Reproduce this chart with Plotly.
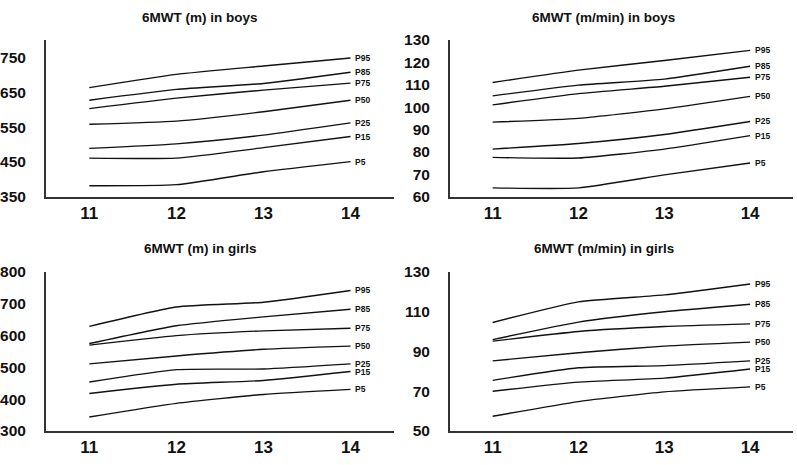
import plotly.graph_objects as go

ages = [11, 12, 13, 14]
pct_labels = ["P95", "P85", "P75", "P50", "P25", "P15", "P5"]

boys_m = {
    "P95": [663, 701, 725, 748],
    "P85": [627, 658, 675, 707],
    "P75": [603, 633, 656, 676],
    "P50": [558, 567, 594, 627],
    "P25": [489, 502, 527, 562],
    "P15": [461, 461, 491, 523],
    "P5":  [382, 385, 422, 451],
}
boys_mmin = {
    "P95": [111.0, 116.5, 120.8, 125.3],
    "P85": [105.0, 109.8, 112.5, 118.2],
    "P75": [101.0, 106.0, 109.3, 113.3],
    "P50": [93.3, 95.0, 99.2, 104.8],
    "P25": [81.3, 83.8, 87.8, 93.6],
    "P15": [77.6, 77.3, 81.3, 87.3],
    "P5":  [64.0, 64.0, 69.8, 75.1],
}
girls_m = {
    "P95": [629, 690, 705, 742],
    "P85": [575, 631, 659, 683],
    "P75": [570, 600, 615, 623],
    "P50": [511, 536, 557, 567],
    "P25": [454, 493, 495, 511],
    "P15": [418, 447, 459, 487],
    "P5":  [344, 387, 415, 431],
}
girls_mmin = {
    "P95": [104.6, 115.0, 118.5, 124.0],
    "P85": [96.0, 104.8, 110.0, 113.8],
    "P75": [95.2, 100.1, 102.6, 103.9],
    "P50": [85.3, 89.4, 92.7, 94.7],
    "P25": [75.5, 81.8, 82.9, 85.3],
    "P15": [70.0, 74.6, 76.6, 81.2],
    "P5":  [57.4, 64.8, 69.7, 72.2],
}

titles = ["6MWT (m) in boys", "6MWT (m/min) in boys",
          "6MWT (m) in girls", "6MWT (m/min) in girls"]
datasets = [boys_m, boys_mmin, girls_m, girls_mmin]
yranges = [[350, 800], [60, 130], [300, 800], [50, 130]]
ydticks = [100, 10, 100, 20]
ytick0 = [350, 60, 300, 50]

W, H = 797, 465
xdoms = [[42 / W, 392 / W], [448 / W, 793 / W], [42 / W, 392 / W], [448 / W, 793 / W]]
ydoms = [[1 - 195 / H, 1 - 32 / H], [1 - 195 / H, 1 - 32 / H],
         [1 - 438 / H, 1 - 273 / H], [1 - 438 / H, 1 - 273 / H]]
title_x = [197 / W, 603 / W, 197 / W, 603 / W]
title_y = [1 - 9 / H, 1 - 9 / H, 1 - 249 / H, 1 - 249 / H]

FONT = "Liberation Sans"
fig = go.Figure()
layout = dict()
annotations = []
for i, data in enumerate(datasets):
    xa = "x" if i == 0 else f"x{i+1}"
    ya = "y" if i == 0 else f"y{i+1}"
    for p in pct_labels:
        fig.add_trace(go.Scatter(
            x=ages, y=data[p], mode="lines", xaxis=xa, yaxis=ya,
            line=dict(color="#111111", width=1.4, shape="spline", smoothing=0.5),
            showlegend=False, hoverinfo="skip"))
        annotations.append(dict(
            x=14, y=data[p][-1], xref=xa, yref=ya, text=f"<b>{p}</b>",
            showarrow=False, xanchor="left", yanchor="middle", xshift=3,
            font=dict(family=FONT, size=8.5, color="#111111")))
    annotations.append(dict(
        x=title_x[i], y=title_y[i], xref="paper", yref="paper",
        text=f"<b>{titles[i]}</b>", showarrow=False,
        xanchor="center", yanchor="middle",
        font=dict(family=FONT, size=13.5, color="#111111")))
    kx = "xaxis" if i == 0 else f"xaxis{i+1}"
    ky = "yaxis" if i == 0 else f"yaxis{i+1}"
    layout[kx] = dict(
        domain=xdoms[i], range=[10.5, 14.5], anchor=ya,
        tickmode="array", tickvals=ages, ticktext=[str(a) for a in ages],
        showgrid=False, zeroline=False, showline=True, linecolor="#333333",
        linewidth=1.5, ticks="", ticklabelstandoff=0,
        tickfont=dict(family=FONT, size=17, color="#111111", weight="bold"),
        fixedrange=True)
    layout[ky] = dict(
        domain=ydoms[i], range=yranges[i], anchor=xa,
        tick0=ytick0[i], dtick=ydticks[i], tickmode="linear",
        showgrid=False, zeroline=False, showline=True, linecolor="#333333",
        linewidth=1.5, ticks="", ticklabelstandoff=15,
        tickfont=dict(family=FONT, size=15.5, color="#111111", weight="bold"),
        fixedrange=True)

fig.update_layout(
    width=W, height=H, margin=dict(l=0, r=0, t=0, b=0),
    paper_bgcolor="white", plot_bgcolor="white",
    annotations=annotations, **layout)
fig.write_html("out.html", config={"displayModeBar": False},
               post_script="document.body.style.margin='0';document.body.style.overflow='hidden';")
